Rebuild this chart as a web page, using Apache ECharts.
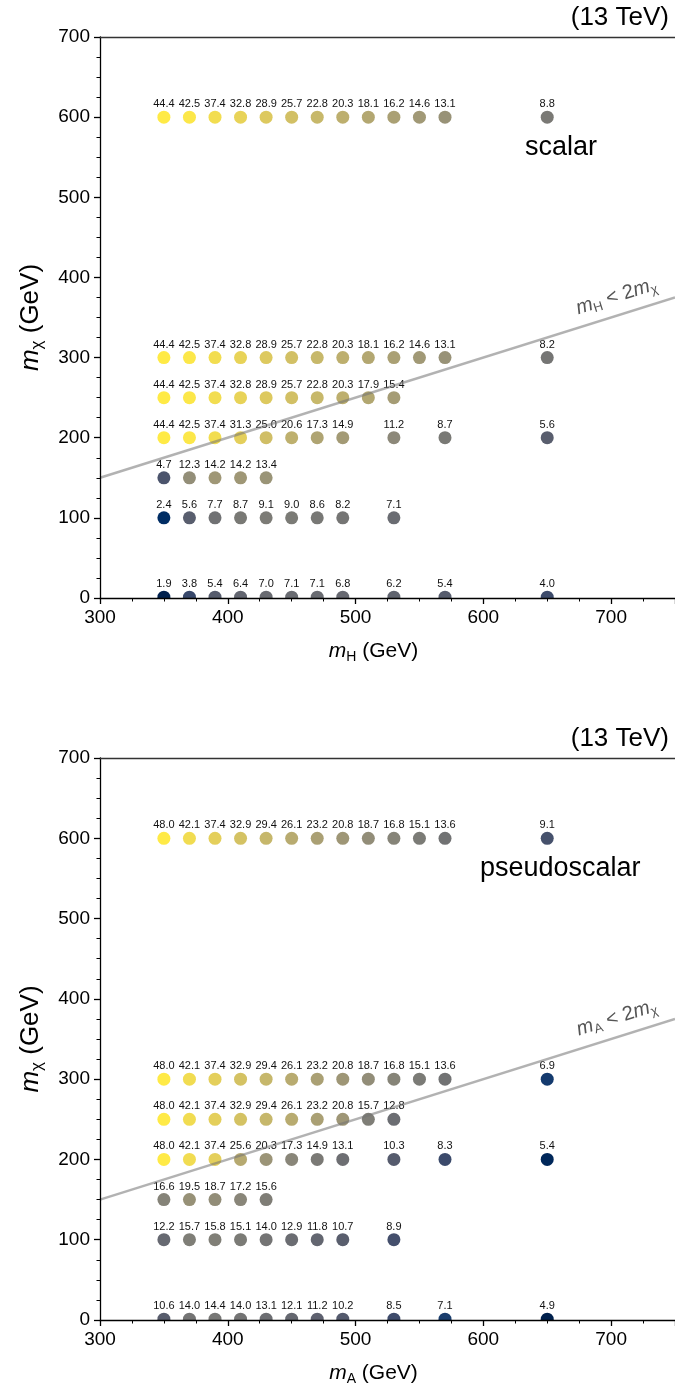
<!DOCTYPE html>
<html>
<head>
<meta charset="utf-8">
<script src="https://cdn.jsdelivr.net/npm/echarts@6/dist/echarts.min.js"></script>
<style>
  html, body { margin: 0; padding: 0; background: #fff; }
  #chart { width: 675px; height: 1390px; }
</style>
</head>
<body>
<div id="chart"></div>
<script>
// ---------------- DATA ----------------
const mMediator = [350, 370, 390, 410, 430, 450, 470, 490, 510, 530, 550, 570, 650];
const mChi = [1, 100, 150, 200, 250, 300, 600];

// scalar (top panel), one array per m_chi row, aligned with mMediator
const scalar_1   = [1.9, 3.8, 5.4, 6.4, 7.0, 7.1, 7.1, 6.8, null, 6.2, null, 5.4, 4.0];
const scalar_100 = [2.4, 5.6, 7.7, 8.7, 9.1, 9.0, 8.6, 8.2, null, 7.1, null, null, null];
const scalar_150 = [4.7, 12.3, 14.2, 14.2, 13.4, null, null, null, null, null, null, null, null];
const scalar_200 = [44.4, 42.5, 37.4, 31.3, 25.0, 20.6, 17.3, 14.9, null, 11.2, null, 8.7, 5.6];
const scalar_250 = [44.4, 42.5, 37.4, 32.8, 28.9, 25.7, 22.8, 20.3, 17.9, 15.4, null, null, null];
const scalar_300 = [44.4, 42.5, 37.4, 32.8, 28.9, 25.7, 22.8, 20.3, 18.1, 16.2, 14.6, 13.1, 8.2];
const scalar_600 = [44.4, 42.5, 37.4, 32.8, 28.9, 25.7, 22.8, 20.3, 18.1, 16.2, 14.6, 13.1, 8.8];

// pseudoscalar (bottom panel)
const pseudo_1   = [10.6, 14.0, 14.4, 14.0, 13.1, 12.1, 11.2, 10.2, null, 8.5, null, 7.1, 4.9];
const pseudo_100 = [12.2, 15.7, 15.8, 15.1, 14.0, 12.9, 11.8, 10.7, null, 8.9, null, null, null];
const pseudo_150 = [16.6, 19.5, 18.7, 17.2, 15.6, null, null, null, null, null, null, null, null];
const pseudo_200 = [48.0, 42.1, 37.4, 25.6, 20.3, 17.3, 14.9, 13.1, null, 10.3, null, 8.3, 5.4];
const pseudo_250 = [48.0, 42.1, 37.4, 32.9, 29.4, 26.1, 23.2, 20.8, 15.7, 12.8, null, null, null];
const pseudo_300 = [48.0, 42.1, 37.4, 32.9, 29.4, 26.1, 23.2, 20.8, 18.7, 16.8, 15.1, 13.6, 6.9];
const pseudo_600 = [48.0, 42.1, 37.4, 32.9, 29.4, 26.1, 23.2, 20.8, 18.7, 16.8, 15.1, 13.6, 9.1];

// kinematic boundary m_med = 2 m_chi
const boundaryMed = [300, 750];
const boundaryChi = [150, 375];

const xTickLabels = ['300', '400', '500', '600', '700'];
const yTickLabels = ['0', '100', '200', '300', '400', '500', '600', '700'];

// ---------------- HELPERS ----------------
const FONT = '"Liberation Sans", Arial, Helvetica, sans-serif';
const cividisStops = ['#00204D', '#00336F', '#39486B', '#575C6D', '#707173',
                      '#8A8779', '#A69D75', '#C4B56C', '#E4CF5B', '#FFEA46'];
function hexToRgb(h) { return [1, 3, 5].map(i => parseInt(h.substr(i, 2), 16)); }
const cividisRgb = cividisStops.map(hexToRgb);
function cividis(t) {
  t = Math.max(0, Math.min(1, t));
  const p = t * (cividisRgb.length - 1);
  const i = Math.min(Math.floor(p), cividisRgb.length - 2);
  const f = p - i;
  const a = cividisRgb[i], b = cividisRgb[i + 1];
  return 'rgb(' + a.map((v, k) => Math.round(v + (b[k] - v) * f)).join(',') + ')';
}
function buildPoints(rows) {
  const pts = [];
  rows.forEach((row, r) => row.forEach((v, i) => {
    if (v !== null) pts.push([mMediator[i], mChi[r], v]);
  }));
  return pts;
}
const scalarPts = buildPoints([scalar_1, scalar_100, scalar_150, scalar_200, scalar_250, scalar_300, scalar_600]);
const pseudoPts = buildPoints([pseudo_1, pseudo_100, pseudo_150, pseudo_200, pseudo_250, pseudo_300, pseudo_600]);
function logNorm(pts) {
  const vals = pts.map(p => p[2]);
  const lo = Math.log(Math.min(...vals)), hi = Math.log(Math.max(...vals));
  return v => (Math.log(v) - lo) / (hi - lo);
}
const scalarNorm = logNorm(scalarPts);
const pseudoNorm = logNorm(pseudoPts);

function makeRich(fs, sub, lh, slh, color) {
  return {
    i: { fontFamily: FONT, fontSize: fs, fontStyle: 'italic', lineHeight: lh, color: color },
    n: { fontFamily: FONT, fontSize: fs, lineHeight: lh, color: color },
    s: { fontFamily: FONT, fontSize: sub, lineHeight: slh, verticalAlign: 'bottom', color: color }
  };
}
const xNameRich = makeRich(21, 14, 26, 13, '#000');
const yNameRich = makeRich(26, 17, 31, 15, '#000');
const lineRich = makeRich(20, 13, 23, 11, '#555');

function xAxisMain(gridIndex, medLetter) {
  return {
    type: 'value', gridIndex: gridIndex, position: 'bottom',
    min: 300, max: 750, interval: 100, z: 200,
    name: '{i|m}{s|' + medLetter + '}{n| (GeV)}',
    nameLocation: 'middle', nameGap: 40,
    nameTextStyle: { rich: xNameRich, padding: [0, 28, 0, 0] },
    axisLine: { show: true, lineStyle: { color: '#000', width: 1.3 } },
    axisTick: { show: true, length: 6, lineStyle: { color: '#000', width: 1.3 } },
    minorTick: { show: true, splitNumber: 4, length: 3.5, lineStyle: { color: '#000', width: 1 } },
    axisLabel: {
      fontFamily: FONT, fontSize: 19, color: '#000', margin: 10, showMaxLabel: false,
      formatter: v => xTickLabels.indexOf(String(v)) >= 0 ? String(v) : ''
    },
    splitLine: { show: false }
  };
}
function xAxisTop(gridIndex) {
  return {
    type: 'value', gridIndex: gridIndex, position: 'top',
    min: 300, max: 750, interval: 100, z: 200,
    axisLine: { show: true, lineStyle: { color: '#333', width: 1.3 } },
    axisTick: { show: false }, axisLabel: { show: false }, splitLine: { show: false }
  };
}
function yAxisMain(gridIndex) {
  return {
    type: 'value', gridIndex: gridIndex,
    min: 0, max: 700, interval: 100, z: 200,
    name: '{i|m}{s|χ}{n| (GeV)}',
    nameLocation: 'middle', nameGap: 54, nameRotate: 90,
    nameTextStyle: { rich: yNameRich },
    axisLine: { show: true, lineStyle: { color: '#000', width: 1.3 } },
    axisTick: { show: true, length: 6, lineStyle: { color: '#000', width: 1.3 } },
    minorTick: { show: true, splitNumber: 4, length: 3.5, lineStyle: { color: '#000', width: 1 } },
    axisLabel: {
      fontFamily: FONT, fontSize: 19, color: '#000', margin: 10,
      formatter: v => yTickLabels.indexOf(String(v)) >= 0 ? String(v) : ''
    },
    splitLine: { show: false }
  };
}
function scatterSeries(pts, norm, xi, yi) {
  return {
    type: 'scatter', xAxisIndex: xi, yAxisIndex: yi, z: 2,
    data: pts, symbolSize: 13,
    itemStyle: { color: p => cividis(norm(p.value[2])), opacity: 1 },
    label: {
      show: true, position: 'top', distance: 1,
      fontFamily: FONT, fontSize: 11, color: '#111',
      formatter: p => p.value[2].toFixed(1)
    },
    emphasis: { disabled: true }
  };
}
function boundarySeries(xi, yi, medLetter) {
  return {
    type: 'line', xAxisIndex: xi, yAxisIndex: yi, z: 3, data: [],
    markLine: {
      silent: true, symbol: ['none', 'none'], animation: false,
      lineStyle: { color: 'rgba(115,115,115,0.55)', width: 2.5, type: 'solid' },
      label: {
        show: true, position: 'insideEndTop', distance: [14, 7],
        formatter: '{i|m}{s|' + medLetter + '}{n| < 2}{i|m}{s|χ}',
        rich: lineRich
      },
      data: [[
        { coord: [boundaryMed[0], boundaryChi[0]] },
        { coord: [boundaryMed[1], boundaryChi[1]] }
      ]]
    }
  };
}

const chart = echarts.init(document.getElementById('chart'), null, { renderer: 'canvas' });
chart.setOption({
  animation: false,
  backgroundColor: '#fff',
  grid: [
    { left: 100, right: 0, top: 37, bottom: 792, containLabel: false },
    { left: 100, right: 0, top: 758, bottom: 70, containLabel: false }
  ],
  xAxis: [xAxisMain(0, 'H'), xAxisTop(0), xAxisMain(1, 'A'), xAxisTop(1)],
  yAxis: [yAxisMain(0), yAxisMain(1)],
  series: [
    scatterSeries(scalarPts, scalarNorm, 0, 0),
    boundarySeries(0, 0, 'H'),
    scatterSeries(pseudoPts, pseudoNorm, 2, 1),
    boundarySeries(2, 1, 'A')
  ],
  graphic: [
    { type: 'rect', z: 100, silent: true, shape: { x: 101, y: 599, width: 580, height: 8 }, style: { fill: '#fff' } },
    { type: 'rect', z: 100, silent: true, shape: { x: 101, y: 1321, width: 580, height: 8 }, style: { fill: '#fff' } },
    { type: 'text', z: 100, x: 669, y: 18, style: { text: '(13 TeV)', fontFamily: FONT, fontSize: 26, fill: '#000', align: 'right', verticalAlign: 'middle' } },
    { type: 'text', z: 100, x: 669, y: 739, style: { text: '(13 TeV)', fontFamily: FONT, fontSize: 26, fill: '#000', align: 'right', verticalAlign: 'middle' } },
    { type: 'text', z: 100, x: 525, y: 148, style: { text: 'scalar', fontFamily: FONT, fontSize: 27, fill: '#000', align: 'left', verticalAlign: 'middle' } },
    { type: 'text', z: 100, x: 480, y: 869, style: { text: 'pseudoscalar', fontFamily: FONT, fontSize: 27, fill: '#000', align: 'left', verticalAlign: 'middle' } }
  ]
});
</script>
</body>
</html>
